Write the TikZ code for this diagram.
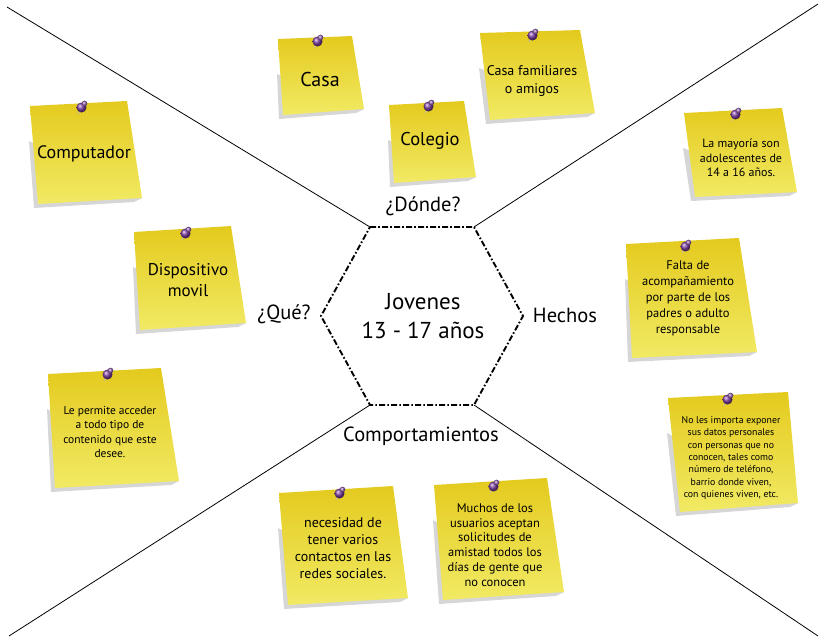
\documentclass[tikz,border=0pt]{standalone}
\usepackage{fontspec}
\setmainfont{PT Sans}
\usetikzlibrary{calc}

\definecolor{notetop}{RGB}{228,202,30}
\definecolor{notebot}{RGB}{241,234,100}
\definecolor{noteshade}{RGB}{214,214,214}
\definecolor{pinpurple}{RGB}{126,62,164}

\newcommand\fsz[2]{\fontsize{#1}{#2}\selectfont}

\tikzset{
  notefill/.style={top color=notetop, bottom color=notebot},
  noteshadow/.style={fill=noteshade},
  hexedge/.style={line width=1.9pt, dash pattern=on 6pt off 2.2pt on 1.6pt off 2.2pt},
  divider/.style={line width=0.8pt},
  notetext/.style={align=center, inner sep=0pt, text=black},
  lbl/.style={inner sep=0pt, font=\fsz{20.5}{24}},
}

% sticky note: #1 top-left, #2 top-right, #3 bottom-right, #4 bottom-left, #5 pin point
\newcommand\stickynote[5]{%
  \fill[noteshadow] ($#1+(-1,35)$) -- ($#4+(-4,4)$) -- ($#3+(-8,4)$) -- #3 -- cycle;
  \shade[notefill] #1 -- #2 -- #3 -- #4 -- cycle;
  \draw[gray!55, line width=0.7pt] ($#5+(-1,3)$) -- ($#5+(-4,8)$);
  \shade[ball color=pinpurple] ($#5+(-0.5,1.5)$) circle[radius=5];
  \shade[ball color=pinpurple!80!white] ($#5+(2.5,-2.5)$) circle[radius=2.8];
}

\begin{document}
\begin{tikzpicture}[x=1pt, y=-1pt]
\useasboundingbox (0,0) rectangle (820,638);

% hexagon corners
\coordinate (h1) at (370,227);
\coordinate (h2) at (474,227);
\coordinate (h3) at (523,316);
\coordinate (h4) at (474,405);
\coordinate (h5) at (370,405);
\coordinate (h6) at (321,316);
% outer ends of the dividing lines
\coordinate (k1) at (7,7);
\coordinate (k2) at (818,4);
\coordinate (k3) at (818,636);
\coordinate (k4) at (9,636);

\draw[divider] (h1) -- (k1);
\draw[divider] (h2) -- (k2);
\draw[divider] (h4) -- (k3);
\draw[divider] (h5) -- (k4);
\draw[hexedge] (h1) -- (h2) -- (h3) -- (h4) -- (h5) -- (h6) -- cycle;

\node[notetext, font=\fsz{23}{29}] (hub) at (423,316) {Jovenes\\13 - 17 años};

\node[lbl] (donde) at (423,206) {¿Dónde?};
\node[lbl] (que) at (284,314) {¿Qué?};
\node[lbl] (hechos) at (565,315) {Hechos};
\node[lbl] (comp) at (421,436) {Comportamientos};

% where
\stickynote{(278,39)}{(352,36)}{(364,109)}{(283,115)}{(318,40)}
\node[notetext, font=\fsz{20}{22}] (casa) at (320,79) {Casa};
\stickynote{(389,105)}{(464,101)}{(476,177)}{(394,183)}{(429,105)}
\node[notetext, font=\fsz{18.5}{22}] (colegio) at (430,141) {Colegio};
\stickynote{(480,33)}{(580,30)}{(595,113)}{(490,120)}{(533,34)}
\node[notetext, font=\fsz{14}{18}] (familia) at (532,81) {Casa familiares\\o amigos};

% what
\stickynote{(30,106)}{(127,101)}{(142,198)}{(38,204)}{(82,106)}
\node[notetext, font=\fsz{18}{22}] (compu) at (84,154) {Computador};
\stickynote{(134,232)}{(231,226)}{(246,323)}{(140,330)}{(186,232)}
\node[notetext, font=\fsz{17}{21}] (movil) at (188,280) {Dispositivo\\movil};
\stickynote{(48,374)}{(161,368)}{(179,481)}{(55,488)}{(108,373)}
\node[notetext, font=\fsz{11.5}{14.3}] (acceso) at (110,432) {Le permite acceder\\a todo tipo de\\contenido que este\\desee.};

% facts
\stickynote{(684,113)}{(782,108)}{(797,192)}{(695,197)}{(736,113)}
\node[notetext, font=\fsz{12}{14.5}] (edad) at (741,158) {La mayoría son\\adolescentes de\\14 a 16 años.};
\stickynote{(626,244)}{(739,238)}{(757,352)}{(632,358)}{(686,245)}
\node[notetext, font=\fsz{12.5}{16}] (falta) at (688,298) {Falta de\\acompañamiento\\por parte de los\\padres o adulto\\responsable};
\stickynote{(668,398)}{(788,392)}{(798,503)}{(680,512)}{(728,398)}
\node[notetext, font=\fsz{9.8}{12.33}] (datos) at (731,458) {No les importa exponer\\sus datos personales\\con personas que no\\conocen, tales como\\número de teléfono,\\barrio donde viven,\\con quienes viven, etc.};

% behaviour
\stickynote{(279,493)}{(393,486)}{(408,598)}{(288,605)}{(340,492)}
\node[notetext, font=\fsz{14}{17}] (contactos) at (343,548) {necesidad de\\tener varios\\contactos en las\\redes sociales.};
\stickynote{(434,485)}{(547,478)}{(564,592)}{(443,600)}{(494,485)}
\node[notetext, font=\fsz{12.5}{14.8}] (amistad) at (495,545) {Muchos de los\\usuarios aceptan\\solicitudes de\\amistad todos los\\días de gente que\\no conocen};
\end{tikzpicture}
\end{document}
